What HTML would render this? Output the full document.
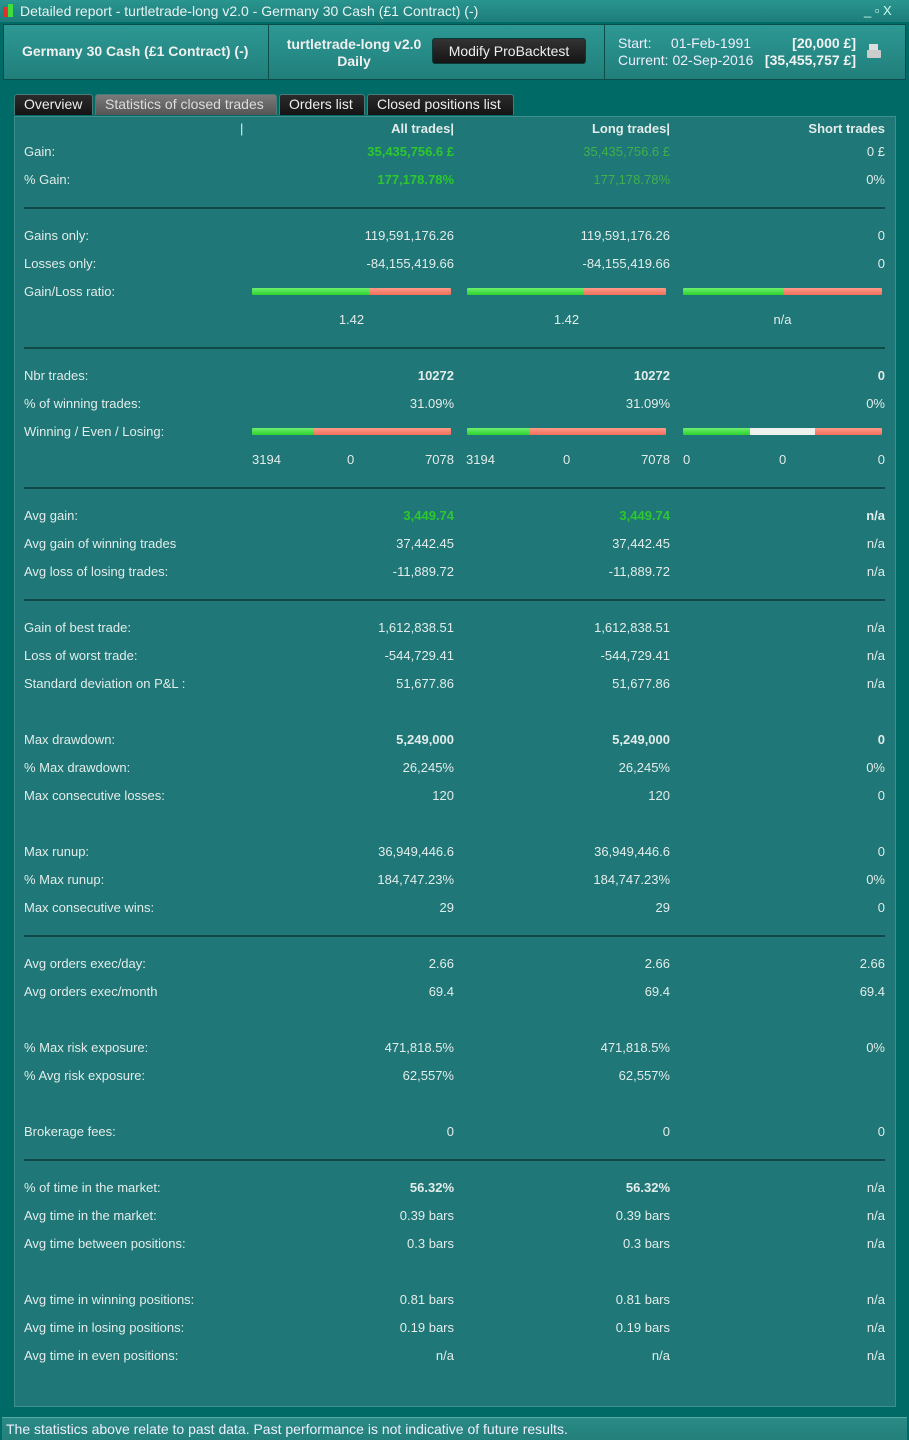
<!DOCTYPE html>
<html><head><meta charset="utf-8"><style>
*{margin:0;padding:0;box-sizing:border-box}
body{width:909px;height:1440px;background:#006a66;font-family:"Liberation Sans",sans-serif;font-size:13px;color:#e2ecea;position:relative;overflow:hidden}
.a{position:absolute;white-space:nowrap}
#title{left:0;top:0;width:909px;height:22px;background:linear-gradient(#2a9590,#1d7d79);}
#hdr{left:3px;top:24px;width:903px;height:56px;background:linear-gradient(#2d9893,#217f7b);border:1px solid #0b4d4a}
.tab{position:absolute;top:94px;height:21px;background:linear-gradient(#2b2b2b,#141414);color:#eee;border:1px solid #4a7c7a;border-bottom:none;border-radius:3px 3px 0 0;font-size:14px;line-height:19px;padding:0 9px;white-space:nowrap;overflow:hidden}
#panel{left:14px;top:116px;width:882px;height:1291px;background:#1f7777;border:1px solid #3f8f8c}
.r{position:absolute;height:16px;line-height:16px;white-space:nowrap}
.l{left:24px}
.c1{right:455px;text-align:right}
.c2{right:239px;text-align:right}
.c3{right:24px;text-align:right}
.b{font-weight:bold}
.g{color:#2ec82e}
.g2{color:#40b04a}
.sep{position:absolute;left:24px;width:861px;height:2px;background:#0f4a48}
.bar{position:absolute;height:7px;width:199px;border-radius:1px;overflow:hidden;display:flex}
.bar i{display:block;height:100%}
.gr{background:linear-gradient(#6df06d,#2ed12e)}
.rd{background:linear-gradient(#ff9a88,#f0705c)}
.wh{background:#eef2ee}
</style></head><body>
<div class="a" id="title"></div>
<div class="a" style="left:3px;top:7px;width:4px;height:10px;background:#e03030"></div>
<div class="a" style="left:8px;top:4px;width:5px;height:13px;background:#3ce03c"></div>
<div class="a" style="left:20px;top:2px;font-size:14px;line-height:18px;color:#e8f4f2">Detailed report - turtletrade-long v2.0 - Germany 30 Cash (£1 Contract) (-)</div>
<div class="a" style="left:864px;top:3px;font-size:13px;color:#cfe">_ ▫ X</div>
<div class="a" id="hdr"></div>
<div class="a" style="left:268px;top:25px;width:1px;height:54px;background:#0b4d4a"></div>
<div class="a" style="left:604px;top:25px;width:1px;height:54px;background:#0b4d4a"></div>
<div class="a b" style="left:22px;top:43px;font-size:14px;color:#f0f0f0">Germany 30 Cash (£1 Contract) (-)</div>
<div class="a b" style="left:282px;top:36px;font-size:14px;color:#f0f0f0;text-align:center;width:144px;line-height:17px">turtletrade-long v2.0<br>Daily</div>
<div class="a" style="left:432px;top:38px;width:154px;height:26px;background:linear-gradient(#333,#151515);border:1px solid #0a3a38;border-radius:3px;color:#eee;font-size:14px;line-height:24px;text-align:center">Modify ProBacktest</div>
<div class="a" style="left:618px;top:35px;font-size:14px;line-height:17px;color:#eef">Start:&nbsp;&nbsp;&nbsp;&nbsp; 01-Feb-1991<br>Current: 02-Sep-2016</div>
<div class="a b" style="right:53px;top:35px;font-size:14px;line-height:17px;text-align:right;color:#f4f4f4">[20,000 £]<br>[35,455,757 £]</div>
<div class="a" style="left:869px;top:44px;width:9px;height:6px;background:#ddd"></div>
<div class="a" style="left:867px;top:50px;width:14px;height:8px;background:#ccc;border-radius:1px"></div>
<div class="tab" style="left:14px;width:79px">Overview</div>
<div class="tab" style="left:95px;width:182px;background:linear-gradient(#7a7a7a,#555);color:#ddd">Statistics of closed trades</div>
<div class="tab" style="left:279px;width:86px">Orders list</div>
<div class="tab" style="left:367px;width:147px">Closed positions list</div>
<div class="a" id="panel"></div>
<div class="r" style="left:240px;top:121px">|</div>
<div class="r c1 b" style="top:121px">All trades|</div>
<div class="r c2 b" style="top:121px">Long trades|</div>
<div class="r c3 b" style="top:121px">Short trades</div>

<div class="r l" style="top:144px">Gain:</div><div class="r c1 b g" style="top:144px">35,435,756.6 £</div><div class="r c2 g2" style="top:144px">35,435,756.6 £</div><div class="r c3" style="top:144px">0 £</div>
<div class="r l" style="top:172px">% Gain:</div><div class="r c1 b g" style="top:172px">177,178.78%</div><div class="r c2 g2" style="top:172px">177,178.78%</div><div class="r c3" style="top:172px">0%</div>
<div class="sep" style="top:207px"></div>

<div class="r l" style="top:228px">Gains only:</div><div class="r c1" style="top:228px">119,591,176.26</div><div class="r c2" style="top:228px">119,591,176.26</div><div class="r c3" style="top:228px">0</div>
<div class="r l" style="top:256px">Losses only:</div><div class="r c1" style="top:256px">-84,155,419.66</div><div class="r c2" style="top:256px">-84,155,419.66</div><div class="r c3" style="top:256px">0</div>
<div class="r l" style="top:284px">Gain/Loss ratio:</div>
<div class="bar" style="left:252px;top:288px"><i class="gr" style="width:59%"></i><i class="rd" style="flex:1"></i></div>
<div class="bar" style="left:467px;top:288px"><i class="gr" style="width:59%"></i><i class="rd" style="flex:1"></i></div>
<div class="bar" style="left:683px;top:288px"><i class="gr" style="width:50%"></i><i class="rd" style="flex:1"></i></div>
<div class="r" style="left:252px;width:199px;text-align:center;top:312px">1.42</div>
<div class="r" style="left:467px;width:199px;text-align:center;top:312px">1.42</div>
<div class="r" style="left:683px;width:199px;text-align:center;top:312px">n/a</div>
<div class="sep" style="top:347px"></div>

<div class="r l" style="top:368px">Nbr trades:</div><div class="r c1 b" style="top:368px">10272</div><div class="r c2 b" style="top:368px">10272</div><div class="r c3 b" style="top:368px">0</div>
<div class="r l" style="top:396px">% of winning trades:</div><div class="r c1" style="top:396px">31.09%</div><div class="r c2" style="top:396px">31.09%</div><div class="r c3" style="top:396px">0%</div>
<div class="r l" style="top:424px">Winning / Even / Losing:</div>
<div class="bar" style="left:252px;top:428px"><i class="gr" style="width:31%"></i><i class="rd" style="flex:1"></i></div>
<div class="bar" style="left:467px;top:428px"><i class="gr" style="width:31%"></i><i class="rd" style="flex:1"></i></div>
<div class="bar" style="left:683px;top:428px"><i class="gr" style="width:33.5%"></i><i class="wh" style="width:33%"></i><i class="rd" style="flex:1"></i></div>
<div class="r" style="left:252px;top:452px">3194</div><div class="r" style="left:347px;top:452px">0</div><div class="r c1" style="top:452px">7078</div>
<div class="r" style="left:466px;top:452px">3194</div><div class="r" style="left:563px;top:452px">0</div><div class="r c2" style="top:452px">7078</div>
<div class="r" style="left:683px;top:452px">0</div><div class="r" style="left:779px;top:452px">0</div><div class="r c3" style="top:452px">0</div>
<div class="sep" style="top:487px"></div>

<div class="r l" style="top:508px">Avg gain:</div><div class="r c1 b g" style="top:508px">3,449.74</div><div class="r c2 b g" style="top:508px">3,449.74</div><div class="r c3 b" style="top:508px">n/a</div>
<div class="r l" style="top:536px">Avg gain of winning trades</div><div class="r c1" style="top:536px">37,442.45</div><div class="r c2" style="top:536px">37,442.45</div><div class="r c3" style="top:536px">n/a</div>
<div class="r l" style="top:564px">Avg loss of losing trades:</div><div class="r c1" style="top:564px">-11,889.72</div><div class="r c2" style="top:564px">-11,889.72</div><div class="r c3" style="top:564px">n/a</div>
<div class="sep" style="top:599px"></div>

<div class="r l" style="top:620px">Gain of best trade:</div><div class="r c1" style="top:620px">1,612,838.51</div><div class="r c2" style="top:620px">1,612,838.51</div><div class="r c3" style="top:620px">n/a</div>
<div class="r l" style="top:648px">Loss of worst trade:</div><div class="r c1" style="top:648px">-544,729.41</div><div class="r c2" style="top:648px">-544,729.41</div><div class="r c3" style="top:648px">n/a</div>
<div class="r l" style="top:676px">Standard deviation on P&amp;L :</div><div class="r c1" style="top:676px">51,677.86</div><div class="r c2" style="top:676px">51,677.86</div><div class="r c3" style="top:676px">n/a</div>

<div class="r l" style="top:732px">Max drawdown:</div><div class="r c1 b" style="top:732px">5,249,000</div><div class="r c2 b" style="top:732px">5,249,000</div><div class="r c3 b" style="top:732px">0</div>
<div class="r l" style="top:760px">% Max drawdown:</div><div class="r c1" style="top:760px">26,245%</div><div class="r c2" style="top:760px">26,245%</div><div class="r c3" style="top:760px">0%</div>
<div class="r l" style="top:788px">Max consecutive losses:</div><div class="r c1" style="top:788px">120</div><div class="r c2" style="top:788px">120</div><div class="r c3" style="top:788px">0</div>

<div class="r l" style="top:844px">Max runup:</div><div class="r c1" style="top:844px">36,949,446.6</div><div class="r c2" style="top:844px">36,949,446.6</div><div class="r c3" style="top:844px">0</div>
<div class="r l" style="top:872px">% Max runup:</div><div class="r c1" style="top:872px">184,747.23%</div><div class="r c2" style="top:872px">184,747.23%</div><div class="r c3" style="top:872px">0%</div>
<div class="r l" style="top:900px">Max consecutive wins:</div><div class="r c1" style="top:900px">29</div><div class="r c2" style="top:900px">29</div><div class="r c3" style="top:900px">0</div>
<div class="sep" style="top:935px"></div>

<div class="r l" style="top:956px">Avg orders exec/day:</div><div class="r c1" style="top:956px">2.66</div><div class="r c2" style="top:956px">2.66</div><div class="r c3" style="top:956px">2.66</div>
<div class="r l" style="top:984px">Avg orders exec/month</div><div class="r c1" style="top:984px">69.4</div><div class="r c2" style="top:984px">69.4</div><div class="r c3" style="top:984px">69.4</div>

<div class="r l" style="top:1040px">% Max risk exposure:</div><div class="r c1" style="top:1040px">471,818.5%</div><div class="r c2" style="top:1040px">471,818.5%</div><div class="r c3" style="top:1040px">0%</div>
<div class="r l" style="top:1068px">% Avg risk exposure:</div><div class="r c1" style="top:1068px">62,557%</div><div class="r c2" style="top:1068px">62,557%</div>

<div class="r l" style="top:1124px">Brokerage fees:</div><div class="r c1" style="top:1124px">0</div><div class="r c2" style="top:1124px">0</div><div class="r c3" style="top:1124px">0</div>
<div class="sep" style="top:1159px"></div>

<div class="r l" style="top:1180px">% of time in the market:</div><div class="r c1 b" style="top:1180px">56.32%</div><div class="r c2 b" style="top:1180px">56.32%</div><div class="r c3" style="top:1180px">n/a</div>
<div class="r l" style="top:1208px">Avg time in the market:</div><div class="r c1" style="top:1208px">0.39 bars</div><div class="r c2" style="top:1208px">0.39 bars</div><div class="r c3" style="top:1208px">n/a</div>
<div class="r l" style="top:1236px">Avg time between positions:</div><div class="r c1" style="top:1236px">0.3 bars</div><div class="r c2" style="top:1236px">0.3 bars</div><div class="r c3" style="top:1236px">n/a</div>

<div class="r l" style="top:1292px">Avg time in winning positions:</div><div class="r c1" style="top:1292px">0.81 bars</div><div class="r c2" style="top:1292px">0.81 bars</div><div class="r c3" style="top:1292px">n/a</div>
<div class="r l" style="top:1320px">Avg time in losing positions:</div><div class="r c1" style="top:1320px">0.19 bars</div><div class="r c2" style="top:1320px">0.19 bars</div><div class="r c3" style="top:1320px">n/a</div>
<div class="r l" style="top:1348px">Avg time in even positions:</div><div class="r c1" style="top:1348px">n/a</div><div class="r c2" style="top:1348px">n/a</div><div class="r c3" style="top:1348px">n/a</div>

<div class="a" style="left:2px;top:1417px;width:905px;height:23px;background:linear-gradient(#2a8a85,#23807b);border-top:1px solid #5aa9a4"></div>
<div class="a" style="left:6px;top:1421px;font-size:14px;color:#eef">The statistics above relate to past data. Past performance is not indicative of future results.</div>
</body></html>
